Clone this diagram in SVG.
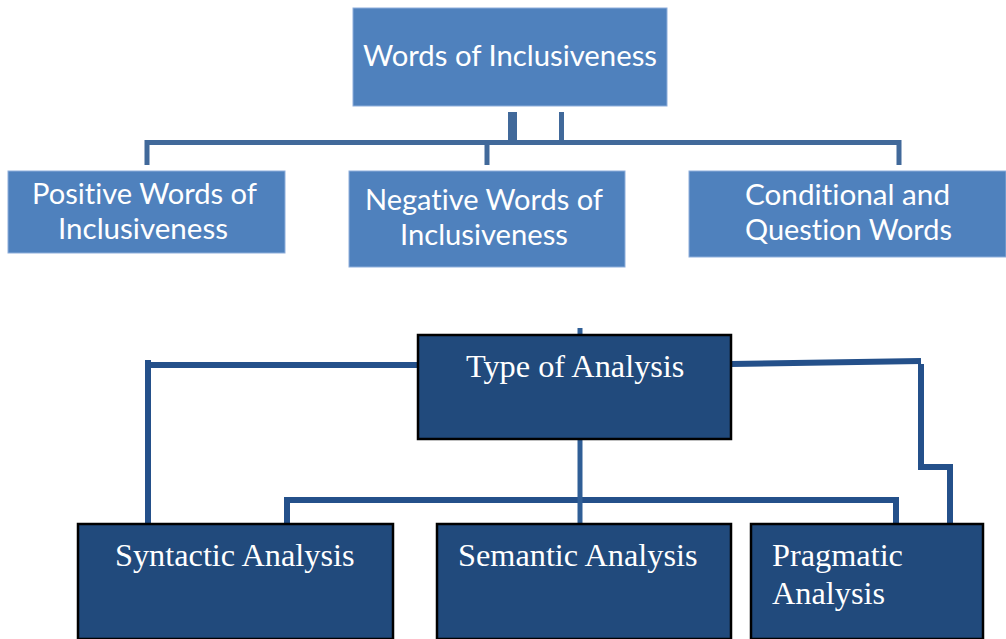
<svg xmlns="http://www.w3.org/2000/svg" width="1006" height="639" viewBox="0 0 1006 639">
<style>
.lb{fill:#4F81BD;stroke:#8EAEDB;stroke-width:1}
.db{fill:#214A7C;stroke:#000;stroke-width:2.5}
.st{font-family:Lato,"Liberation Sans",sans-serif;font-size:28px;fill:#fff;font-variant-ligatures:none}
.sr{font-family:"Liberation Serif","Times New Roman",serif;font-size:32.3px;fill:#fff}
.c1{fill:none;stroke:#41699A;stroke-width:5}
.c2{fill:none;stroke:#24508A;stroke-width:6}
.c3{fill:none;stroke:#2F5E96;stroke-width:5}
</style>
<rect width="1006" height="639" fill="#fff"/>
<g id="connectors">
<path class="c1" d="M147,165 V142.5 H899 V165"/>
<path class="c1" d="M487,142.5 V165"/>
<path d="M508,112 H517 V145 H508 Z" fill="#41699A"/>
<path class="c1" d="M561.5,112 V145"/>
<path class="c3" d="M580,328 V336"/>
<path class="c2" d="M418,365 H148 V524"/>
<path class="c2" d="M148,360 V366"/>
<path class="c2" d="M731,364 L921,361"/>
<path class="c2" d="M921,364 V467 H950 V524"/>
<path class="c2" d="M287,524 V500 H896 V524"/>
<path class="c3" d="M580,439 V524"/>
</g>
<g id="words-of-inclusiveness">
<rect class="lb" x="353" y="8" width="314" height="98"/>
<text class="st" x="510" y="66" text-anchor="middle" textLength="294" lengthAdjust="spacingAndGlyphs">Words of Inclusiveness</text>
</g>
<g id="positive">
<rect class="lb" x="8" y="171" width="277" height="82"/>
<text class="st" x="144.5" y="204" text-anchor="middle" textLength="225" lengthAdjust="spacingAndGlyphs">Positive Words of</text>
<text class="st" x="143" y="239" text-anchor="middle" textLength="170" lengthAdjust="spacingAndGlyphs">Inclusiveness</text>
</g>
<g id="negative">
<rect class="lb" x="349" y="171" width="276" height="96"/>
<text class="st" x="484" y="210" text-anchor="middle" textLength="238" lengthAdjust="spacingAndGlyphs">Negative Words of</text>
<text class="st" x="484" y="245" text-anchor="middle" textLength="168" lengthAdjust="spacingAndGlyphs">Inclusiveness</text>
</g>
<g id="conditional">
<rect class="lb" x="689" y="171" width="317" height="86"/>
<text class="st" x="847.5" y="205" text-anchor="middle" textLength="205" lengthAdjust="spacingAndGlyphs">Conditional and</text>
<text class="st" x="848.5" y="240" text-anchor="middle" textLength="207" lengthAdjust="spacingAndGlyphs">Question Words</text>
</g>
<g id="type-of-analysis">
<rect class="db" x="418" y="335" width="313" height="104"/>
<text class="sr" x="466" y="377">Type of Analysis</text>
</g>
<g id="syntactic">
<rect class="db" x="78" y="524" width="315" height="115"/>
<text class="sr" x="115" y="566">Syntactic Analysis</text>
</g>
<g id="semantic">
<rect class="db" x="437" y="524" width="294" height="115"/>
<text class="sr" x="458" y="566">Semantic Analysis</text>
</g>
<g id="pragmatic">
<rect class="db" x="751" y="524" width="232" height="115"/>
<text class="sr" x="772" y="566">Pragmatic</text>
<text class="sr" x="772" y="604">Analysis</text>
</g>
</svg>
